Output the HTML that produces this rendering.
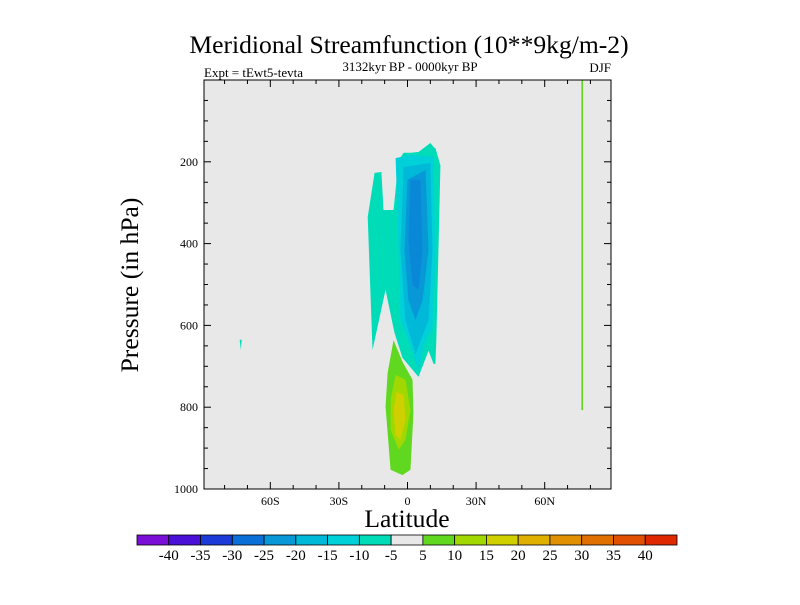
<!DOCTYPE html>
<html><head><meta charset="utf-8"><style>
body{margin:0;background:#fff;}
svg text{font-family:"Liberation Serif",serif;fill:#000;}
</style></head><body>
<svg id="c" width="800" height="600" xmlns="http://www.w3.org/2000/svg">
<text x="409" y="53" font-size="25.6" text-anchor="middle">Meridional Streamfunction (10**9kg/m-2)</text>
<text x="410" y="71" font-size="13" text-anchor="middle">3132kyr BP - 0000kyr BP</text>
<text x="204" y="77" font-size="13">Expt = tEwt5-tevta</text>
<text x="611" y="72" font-size="13" text-anchor="end">DJF</text>
<text transform="translate(138,285) rotate(-90)" font-size="25.6" text-anchor="middle">Pressure (in hPa)</text>
<text x="407" y="527" font-size="25.6" text-anchor="middle">Latitude</text>
<g id="plot"></g>
<g id="cb"></g>
</svg>
<script>
const xTicks=[-60,-30,0,30,60];
const xTickLabels=['60S','30S','0','30N','60N'];
const yTicks=[200,400,600,800,1000];
const cbLevels=[-40,-35,-30,-25,-20,-15,-10,-5,5,10,15,20,25,30,35,40];
const cbColors=['#7a10d8','#4a10d8','#1c3ad8','#0a70d8','#0898d8','#00b8d8','#00d0d8','#00dcb8','#e8e8e8','#60d820','#a0d800','#d0d000','#e0b000','#e09000','#e07000','#e05000','#e02800'];
// contour polygons [lat, pressure]
const negOuter=[[14.4,209],[12.2,166],[11.8,166],[10,154],[4.8,176],[1.3,178],[-1.7,178],[-3.9,196],[-6.1,318],[-10.5,318],[-11.4,225],[-14.4,227],[-17.4,335],[-15.3,660],[-9.6,513],[-5.7,618],[-2.2,679],[4.8,726],[9.2,662],[11.4,694],[12.2,694],[12.6,638]];
const neg15=[[11.4,188],[10.9,188],[1.3,183],[-5.2,191],[-3.9,416],[-3.1,587],[1.3,650],[4.8,709],[7.9,636],[10.9,611],[12.2,440]];
const neg20=[[10.0,203],[-1.7,213],[-3.1,416],[-0.9,587],[3.5,670],[9.2,587],[10.9,416]];
const neg25=[[7.9,220],[0,244],[-1.3,416],[0.4,538],[3.5,587],[6.6,538],[9.2,416]];
const neg30=[[5.7,244],[1.3,244],[0.4,391],[2.2,501],[4.8,513],[6.6,416]];
const pos10=[[-6.1,636],[-2.2,689],[2.2,733],[2.6,814],[1.3,953],[-2.2,966],[-7.4,953],[-9.6,799],[-8.7,716]];
const pos15=[[-5.2,721],[-0.9,733],[1.3,807],[-0.9,880],[-3.9,904],[-7.4,855],[-7.4,782]];
const pos20=[[-4.8,763],[-1.7,770],[-0.9,831],[-3.1,880],[-5.2,868],[-6.1,807]];
const blobSpot=[[-73.4,635],[-72.5,635],[-72.9,660]];
const lineLat=76.4, lineTop=0, lineBottom=807;
const L=204,R=611,T=80,B=489,latMin=-89,latMax=89;
const X=v=>L+(v-latMin)/(latMax-latMin)*(R-L);
const Y=p=>T+p/1000*(B-T);
const NS='http://www.w3.org/2000/svg';
const g=document.getElementById('plot'),cb=document.getElementById('cb');
function mk(t,a,parent){const e=document.createElementNS(NS,t);for(const k in a)e.setAttribute(k,a[k]);(parent||g).appendChild(e);return e;}
let bg=mk('rect',{x:L,y:T,width:R-L,height:B-T,fill:'#e8e8e8'});


const polys=[[negOuter,'#00dcb8','contour-minus-5'],[neg15,'#00d0d8','contour-minus-10'],[neg20,'#00b8d8','contour-minus-15'],[neg25,'#0898d8','contour-minus-20'],[neg30,'#0a88d8','contour-minus-25'],[pos10,'#60d820','contour-plus-5'],[pos15,'#a0d800','contour-plus-10'],[pos20,'#d0d000','contour-plus-15'],[blobSpot,'#00dcb8','contour-spot']];
polys.forEach(([pts,col,name])=>{
 const e=mk('polygon',{points:pts.map(q=>X(q[0])+','+Y(q[1])).join(' '),fill:col});
 
 
});
let ln=mk('line',{x1:X(lineLat),x2:X(lineLat),y1:Y(lineTop),y2:Y(lineBottom),stroke:'#60d820','stroke-width':1.6});


let fr=mk('rect',{x:L,y:T,width:R-L,height:B-T,fill:'none',stroke:'#000','stroke-width':1});


for(let v=-80;v<=80;v+=10){const maj=v%30==0;const x=X(v);
 mk('line',{x1:x,x2:x,y1:B,y2:B-(maj?7:4),stroke:'#000'});mk('line',{x1:x,x2:x,y1:T,y2:T+(maj?7:4),stroke:'#000'});}
xTicks.forEach((v,i)=>{const t=mk('text',{x:X(v),y:505,'font-size':12,'text-anchor':'middle'});t.textContent=xTickLabels[i];
 
 });
for(let p=50;p<1000;p+=50){const maj=p%200==0;const y=Y(p);
 mk('line',{x1:L,x2:L+(maj?7:4),y1:y,y2:y,stroke:'#000'});mk('line',{x1:R,x2:R-(maj?7:4),y1:y,y2:y,stroke:'#000'});}
yTicks.forEach(v=>{const t=mk('text',{x:L-6,y:Y(v)+4,'font-size':12,'text-anchor':'end'});t.textContent=v;
 
 });
const cx0=137,cx1=677,cw=(cx1-cx0)/cbColors.length;
cbColors.forEach((c,i)=>{const r=mk('rect',{x:cx0+i*cw,y:535,width:cw,height:10,fill:c,stroke:'#000','stroke-width':0.8},cb);
 
 });
cbLevels.forEach((v,i)=>{const t=mk('text',{x:cx0+(i+1)*cw,y:560,'font-size':15,'text-anchor':'middle'},cb);t.textContent=v;
 
 });
</script>
</body></html>
